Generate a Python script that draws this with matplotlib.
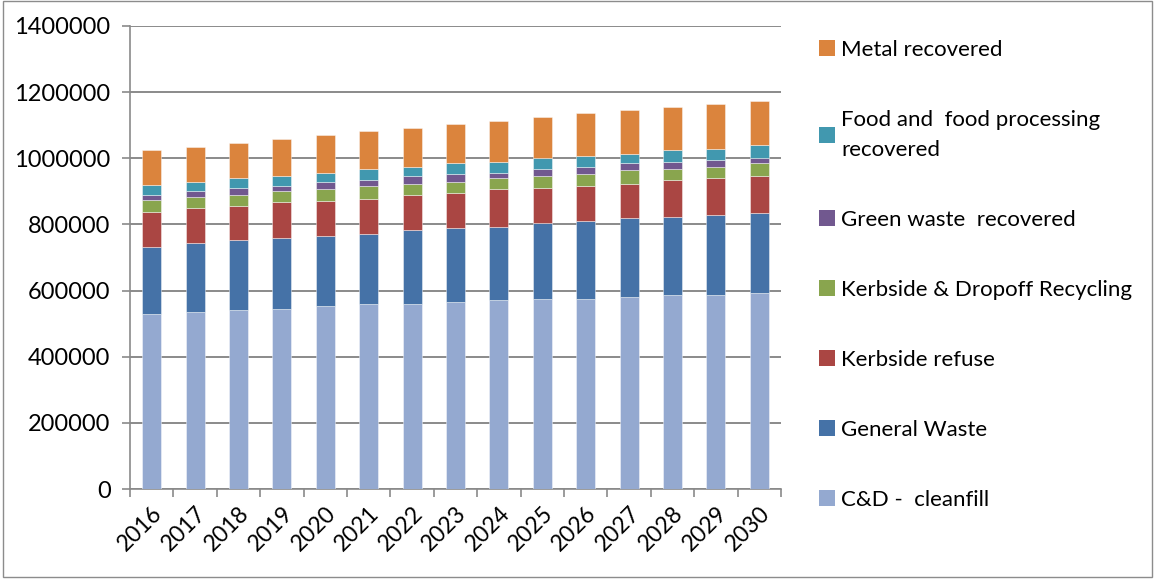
import matplotlib
matplotlib.use('Agg')
import matplotlib.pyplot as plt
from matplotlib.patches import Patch, Rectangle
from matplotlib.ticker import StrMethodFormatter, FixedLocator
import numpy as np

years = ['2016', '2017', '2018', '2019', '2020', '2021', '2022', '2023',
         '2024', '2025', '2026', '2027', '2028', '2029', '2030']

# tonnes per year, bottom to top of each stack
cd_cleanfill = [530000, 535000, 540000, 545000, 552000, 558000, 558000, 564000,
                570000, 575000, 575000, 581000, 586000, 586000, 592000]
general_waste = [202000, 208000, 214000, 215000, 214000, 214000, 225000, 224000,
                 223000, 230000, 236000, 237000, 237000, 242000, 242000]
kerbside_refuse = [106000, 106000, 101000, 107000, 106000, 106000, 107000, 108000,
                   113000, 106000, 105000, 104000, 111000, 112000, 111000]
kerbside_recycling = [35000, 35000, 35000, 34000, 34000, 39000, 33000, 33000,
                      33000, 34000, 36000, 42000, 35000, 35000, 41000]
green_waste = [16000, 17000, 21000, 16000, 23000, 17000, 22000, 22000,
               18000, 23000, 23000, 22000, 21000, 21000, 16000]
food_recovered = [29000, 27000, 28000, 28000, 28000, 34000, 29000, 34000,
                  33000, 33000, 32000, 27000, 34000, 33000, 39000]
metal_recovered = [106000, 107000, 107000, 112000, 113000, 113000, 118000, 118000,
                   124000, 125000, 129000, 134000, 130000, 136000, 133000]

series = [
    ('C&D -  cleanfill', cd_cleanfill, '#94A9D0'),
    ('General Waste', general_waste, '#4572A7'),
    ('Kerbside refuse', kerbside_refuse, '#AA4643'),
    ('Kerbside & Dropoff Recycling', kerbside_recycling, '#89A54E'),
    ('Green waste  recovered', green_waste, '#71588F'),
    ('Food and  food processing\nrecovered', food_recovered, '#4198AF'),
    ('Metal recovered', metal_recovered, '#DB843D'),
]

plt.rcParams['font.family'] = ['Lato', 'DejaVu Sans']

fig = plt.figure(figsize=(11.57, 5.79), dpi=100)
ax = fig.add_axes([130 / 1157, 1 - 489 / 579, 651 / 1157, 463 / 579])

x = np.arange(len(years))
bottom = np.zeros(len(years))
handles = []
for name, vals, col in series:
    ax.bar(x, vals, width=0.44, bottom=bottom, color=col,
           edgecolor=(1, 1, 1, 0.5), linewidth=0.6, zorder=3)
    bottom += np.array(vals)
    handles.append(Patch(facecolor=col, label=name))

grid_c = '#8a8a8a'
ax.set_xlim(-0.5, len(years) - 0.5)
ax.set_ylim(0, 1400000)
ax.set_yticks(np.arange(0, 1400001, 200000))
ax.yaxis.set_major_formatter(StrMethodFormatter('{x:.0f}'))
ax.grid(axis='y', color=grid_c, linewidth=1.4, zorder=0)

ax.set_xticks(x)
ax.set_xticklabels(years, rotation=45, ha='right', rotation_mode='anchor')
ax.xaxis.set_minor_locator(FixedLocator(np.arange(-0.5, len(years), 1.0)))
ax.tick_params(axis='x', which='major', length=0, pad=10, labelsize=16.5)
ax.tick_params(axis='x', which='minor', length=6, color=grid_c, width=1.2)
ax.tick_params(axis='y', length=6, color=grid_c, width=1.2, labelsize=17, pad=8)

for s in ['top', 'right']:
    ax.spines[s].set_visible(False)
for s in ['left', 'bottom']:
    ax.spines[s].set_color(grid_c)
    ax.spines[s].set_linewidth(1.2)

leg = fig.legend(handles[::-1], [h.get_label() for h in handles[::-1]],
                 loc='upper left', bbox_to_anchor=(819 / 1157, 1 - 40 / 579),
                 frameon=False, fontsize=16, labelspacing=2.25,
                 handlelength=0.7, handleheight=0.7, handletextpad=0.3,
                 borderpad=0, borderaxespad=0)
for t in leg.get_texts():
    t.set_linespacing(1.6)

fig.patches.append(Rectangle((0.003, 0.004), 0.993, 0.994, transform=fig.transFigure,
                             fill=False, edgecolor='#8c8c8c', linewidth=1.0))

fig.savefig('out.png', dpi=100)
